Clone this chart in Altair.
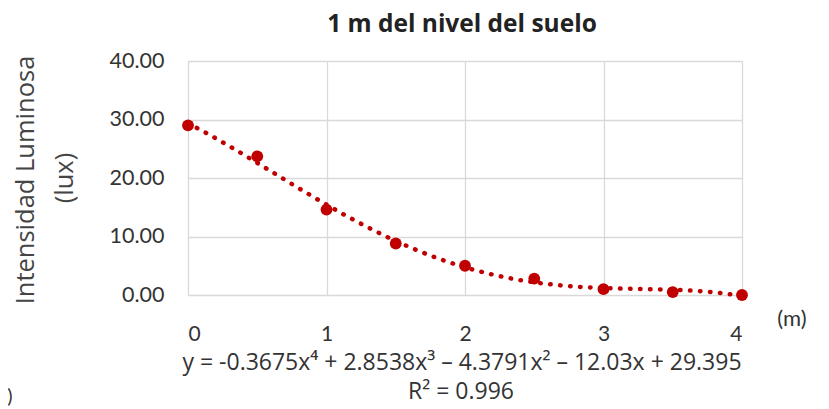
import altair as alt
import pandas as pd

# Data
distancia_m = [0, 0.5, 1, 1.5, 2, 2.5, 3, 3.5, 4]
intensidad_lux = [29.0, 23.7, 14.6, 8.8, 5.0, 2.8, 1.0, 0.5, 0.0]
y_ticks = [0, 10, 20, 30, 40]
x_ticks = [0, 1, 2, 3, 4]
titulo = "1 m del nivel del suelo"
y_titulo = ["Intensidad Luminosa", "(lux)"]
ecuacion = "y = -0.3675x\u2074 + 2.8538x\u00b3 \u2013 4.3791x\u00b2 \u2013 12.03x + 29.395"
r2 = "R\u00b2 = 0.996"
unidad_x = "(m)"

FONT = "Lato"
FONT2 = "Open Sans"
RED = "#C00000"
TXT = "#333333"

df = pd.DataFrame({"x": distancia_m, "y": intensidad_lux})
base = alt.Chart(df)

xs = alt.Scale(domain=[0, 4], nice=False, zero=False)
ys = alt.Scale(domain=[0, 40], nice=False)

points = base.mark_circle(size=140, color=RED, opacity=1).encode(
    x=alt.X("x:Q", scale=xs,
            axis=alt.Axis(values=x_ticks, title=None, labelFontSize=21, labelFont=FONT,
                          labelColor=TXT, labelPadding=28, ticks=False, domain=False,
                          grid=True, gridColor="#d9d9d9", gridWidth=1.3, format="d")),
    y=alt.Y("y:Q", scale=ys,
            axis=alt.Axis(values=y_ticks, format=".2f", title=None,
                          labelFontSize=21.5, labelFont=FONT, labelColor=TXT,
                          labelPadding=24, ticks=False, domain=False,
                          grid=True, gridColor="#d9d9d9", gridWidth=1.3)),
)

trend = base.transform_regression("x", "y", method="poly", order=4, extent=[0, 4]).mark_line(
    color=RED, strokeWidth=4.5, strokeDash=[0.5, 9.5], strokeCap="round"
).encode(x=alt.X("x:Q", scale=xs), y=alt.Y("y:Q", scale=ys))


def label(text, x, y, size, weight="normal", angle=0, color=TXT, font=FONT):
    return alt.Chart(pd.DataFrame({"t": [text]})).mark_text(
        font=font, fontSize=size, fontWeight=weight, color=color, align="center",
        baseline="middle", angle=angle
    ).encode(x=alt.value(x), y=alt.value(y), text="t:N")


layers = [
    trend, points,
    label(titulo, 274, -36, 24.5, "bold", color="#222222", font=FONT2),
    label(y_titulo[0], -162, 119, 25.5, angle=270, color="#444444", font=FONT2),
    label(y_titulo[1], -123, 117, 25.5, angle=270, color="#444444", font=FONT2),
    label(unidad_x, 604, 258, 22),
    label(ecuacion, 274, 302, 23, font=FONT2),
    label(r2, 273, 331, 23, font=FONT2),
    label(")", -178, 336, 20),
]

chart = alt.layer(*layers).properties(
    width=554, height=234,
    autosize=alt.AutoSizeParams(type="none"),
    padding={"left": 180, "top": 53, "right": 79, "bottom": 114},
).configure_view(stroke=None).configure(background="white")

chart.save("out.html", embed_options={"renderer": "svg", "actions": False})
